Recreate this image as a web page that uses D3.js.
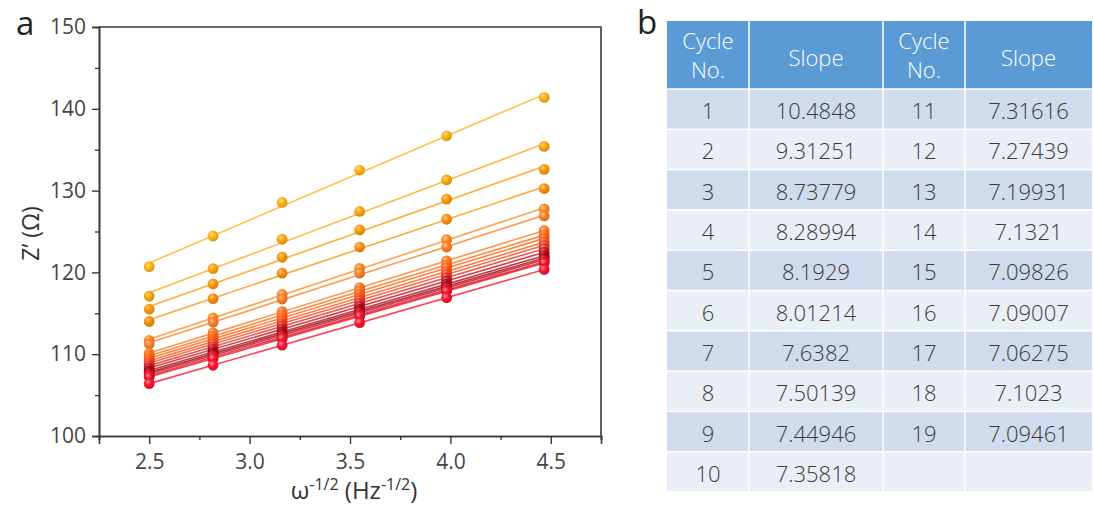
<!DOCTYPE html>
<html>
<head>
<meta charset="utf-8">
<script src="https://cdn.jsdelivr.net/npm/d3@7"></script>
<style>
  body { margin: 0; background: #fff; }
  text { font-family: "Open Sans", sans-serif; }
</style>
</head>
<body>
<svg id="fig" width="1094" height="510"></svg>
<script>
// omega^-1/2 values of the six frequencies
const omega = [2.5, 2.818, 3.162, 3.548, 3.981, 4.467];

const cycleNo = [1, 2, 3, 4, 5, 6, 7, 8, 9, 10, 11, 12, 13, 14, 15, 16, 17, 18, 19];

// Z' (ohm), one row per cycle
const zReal = [
  [120.7, 124.45, 128.55, 132.5, 136.7, 141.4],
  [117.1, 120.45, 124.05, 127.45, 131.3, 135.4],
  [115.5, 118.6, 121.85, 125.2, 128.95, 132.6],
  [114.0, 116.8, 119.9, 123.1, 126.5, 130.25],
  [111.7, 114.45, 117.3, 120.5, 124.0, 127.75],
  [111.25, 113.9, 116.75, 119.9, 123.1, 126.9],
  [110.1, 112.6, 115.2, 118.15, 121.4, 125.1],
  [109.8, 112.2, 114.8, 117.7, 120.9, 124.55],
  [109.5, 111.85, 114.45, 117.3, 120.55, 124.15],
  [109.2, 111.55, 114.1, 116.9, 120.1, 123.7],
  [108.9, 111.25, 113.75, 116.6, 119.75, 123.3],
  [108.6, 110.9, 113.45, 116.2, 119.35, 122.9],
  [108.3, 110.6, 113.1, 115.85, 118.95, 122.45],
  [108.0, 110.25, 112.75, 115.5, 118.55, 122.05],
  [107.8, 110.05, 112.5, 115.25, 118.3, 121.75],
  [107.6, 109.85, 112.3, 115.05, 118.1, 121.55],
  [107.4, 109.65, 112.05, 114.8, 117.85, 121.3],
  [107.2, 109.45, 111.9, 114.65, 117.7, 121.15],
  [106.4, 108.65, 111.1, 113.85, 116.9, 120.35]
];

const cycleColors = [
  "#ffb414", "#ffa60d", "#ff9a06", "#ff8e0a", "#ff8a22", "#ff8028",
  "#ff7a22", "#ff6e1a", "#ff6210", "#ff5414", "#f24322", "#e23224",
  "#c81422", "#b00a16", "#9c0612", "#c20c1c", "#de1424", "#ee1228", "#ff1430"
];

const slopeText = [
  "10.4848", "9.31251", "8.73779", "8.28994", "8.1929", "8.01214", "7.6382",
  "7.50139", "7.44946", "7.35818", "7.31616", "7.27439", "7.19931", "7.1321",
  "7.09826", "7.09007", "7.06275", "7.1023", "7.09461"
];

const yMajor = [100, 110, 120, 130, 140, 150];
const yMinor = [105, 115, 125, 135, 145];
const xMajor = [2.5, 3.0, 3.5, 4.0, 4.5];
const xMinor = [2.25, 2.75, 3.25, 3.75, 4.25, 4.75];

const svg = d3.select("#fig");

// ---------- panel a ----------
const plot = { left: 99, right: 601, top: 27, bottom: 436 };

const x = d3.scaleLinear().domain([2.25, 4.75]).range([plot.left, plot.right]);
const y = d3.scaleLinear().domain([100, 150]).range([plot.bottom, plot.top]);

const defs = svg.append("defs");
cycleColors.forEach((c, i) => {
  const g = defs.append("radialGradient")
    .attr("id", "ball" + i)
    .attr("cx", "38%").attr("cy", "35%").attr("r", "65%");
  g.append("stop").attr("offset", "0%").attr("stop-color", d3.interpolateRgb(c, "#fff")(0.55));
  g.append("stop").attr("offset", "45%").attr("stop-color", c);
  g.append("stop").attr("offset", "100%").attr("stop-color", d3.color(c).darker(0.5));
});

const axisColor = "#3a3a3a";
const labelColor = "#454545";

svg.append("g")
  .attr("transform", `translate(${plot.left},0)`)
  .call(d3.axisLeft(y).tickValues(yMajor).tickSize(7).tickPadding(6).tickFormat(d3.format("d")));
svg.append("g")
  .attr("transform", `translate(${plot.left},0)`)
  .call(d3.axisLeft(y).tickValues(yMinor).tickSize(4).tickFormat(""));

svg.append("g")
  .attr("transform", `translate(0,${plot.bottom})`)
  .call(d3.axisBottom(x).tickValues(xMajor).tickSize(8).tickPadding(10).tickFormat(d3.format(".1f")));
svg.append("g")
  .attr("transform", `translate(0,${plot.bottom})`)
  .call(d3.axisBottom(x).tickValues(xMinor).tickSize(4).tickFormat(""));

svg.selectAll(".domain").attr("stroke", axisColor).attr("stroke-width", 1.6);
svg.selectAll(".tick line").attr("stroke", axisColor).attr("stroke-width", 1.4);
svg.selectAll(".tick text")
  .attr("fill", labelColor)
  .style("font-size", "21px")
  .style("font-family", "'Open Sans', sans-serif");

// frame: top and right
svg.append("path")
  .attr("d", `M${plot.left},${plot.top}H${plot.right}V${plot.bottom}`)
  .attr("fill", "none")
  .attr("stroke", axisColor)
  .attr("stroke-width", 1.6);

// least-squares line for each cycle
function fit(xs, ys) {
  const mx = d3.mean(xs), my = d3.mean(ys);
  let sxy = 0, sxx = 0;
  xs.forEach((v, k) => { sxy += (v - mx) * (ys[k] - my); sxx += (v - mx) * (v - mx); });
  const b = sxy / sxx;
  return { b: b, a: my - b * mx };
}

const lineGen = d3.line().x(d => x(d[0])).y(d => y(d[1]));
const series = svg.append("g");

cycleNo.forEach((c, i) => {
  const vals = zReal[i];
  const f = fit(omega, vals);
  const ends = [omega[0], omega[omega.length - 1]].map(v => [v, f.a + f.b * v]);
  const g = series.append("g");
  g.append("path")
    .datum(ends)
    .attr("d", lineGen)
    .attr("fill", "none")
    .attr("stroke", cycleColors[i])
    .attr("stroke-opacity", 0.8)
    .attr("stroke-width", 1.6);
  g.selectAll("circle")
    .data(vals)
    .enter()
    .append("circle")
    .attr("cx", (d, k) => x(omega[k]))
    .attr("cy", d => y(d))
    .attr("r", 5.4)
    .attr("fill", "url(#ball" + i + ")");
});

// axis titles
svg.append("text")
  .attr("transform", `translate(39,${(plot.top + plot.bottom) / 2 + 2}) rotate(-90)`)
  .attr("text-anchor", "middle")
  .attr("fill", "#333")
  .style("font-size", "23px")
  .text("Z\u2019 (\u03a9)");

const xt = svg.append("text")
  .attr("x", 354)
  .attr("y", 499)
  .attr("text-anchor", "middle")
  .attr("fill", "#333")
  .style("font-size", "24px");
xt.append("tspan").text("\u03c9");
xt.append("tspan").attr("dy", -9).style("font-size", "16px").text("-1/2");
xt.append("tspan").attr("dy", 9).text(" (Hz");
xt.append("tspan").attr("dy", -9).style("font-size", "16px").text("-1/2");
xt.append("tspan").attr("dy", 9).text(")");

svg.append("text").attr("x", 16).attr("y", 35)
  .attr("fill", "#222").style("font-size", "33px").text("a");

// ---------- panel b (table) ----------
svg.append("text").attr("x", 637).attr("y", 34)
  .attr("fill", "#222").style("font-size", "33px").text("b");

const colEdges = [667, 749, 883, 965, 1092];
const headTop = 21, headBottom = 89, tableBottom = 492;
const nRows = 10;
const rowH = (tableBottom - headBottom) / nRows;
const gap = 1.5;
const cellFont = "22px";

const tableRows = d3.range(nRows).map(r => {
  const left = r, right = r + nRows;
  return [
    cycleNo[left], slopeText[left],
    right < cycleNo.length ? cycleNo[right] : "",
    right < cycleNo.length ? slopeText[right] : ""
  ];
});

const table = svg.append("g").style("font-weight", 300);
const headers = [["Cycle", "No."], ["Slope"], ["Cycle", "No."], ["Slope"]];

headers.forEach((h, j) => {
  const x0 = colEdges[j], x1 = colEdges[j + 1];
  table.append("rect")
    .attr("x", x0 + (j ? gap / 2 : 0)).attr("y", headTop)
    .attr("width", x1 - x0 - (j ? gap / 2 : 0) - (j < 3 ? gap / 2 : 0))
    .attr("height", headBottom - headTop - gap / 2)
    .attr("fill", "#5b9bd5");
  const lines = h.length === 2 ? [49, 78] : [66];
  h.forEach((s, k) => {
    table.append("text")
      .attr("x", (x0 + x1) / 2)
      .attr("y", lines[k])
      .attr("text-anchor", "middle")
      .attr("fill", "#fff")
      .style("font-size", cellFont)
      .text(s);
  });
});

tableRows.forEach((row, r) => {
  const y0 = headBottom + r * rowH;
  row.forEach((cell, j) => {
    const x0 = colEdges[j], x1 = colEdges[j + 1];
    table.append("rect")
      .attr("x", x0 + (j ? gap / 2 : 0))
      .attr("y", y0 + gap / 2)
      .attr("width", x1 - x0 - (j ? gap / 2 : 0) - (j < 3 ? gap / 2 : 0))
      .attr("height", rowH - gap)
      .attr("fill", r % 2 === 0 ? "#d0dbee" : "#e9eef7");
    table.append("text")
      .attr("x", (x0 + x1) / 2)
      .attr("y", y0 + rowH / 2 + 10)
      .attr("text-anchor", "middle")
      .attr("fill", "#3a3a3a")
      .style("font-size", cellFont)
      .text(cell);
  });
});
</script>
</body>
</html>
